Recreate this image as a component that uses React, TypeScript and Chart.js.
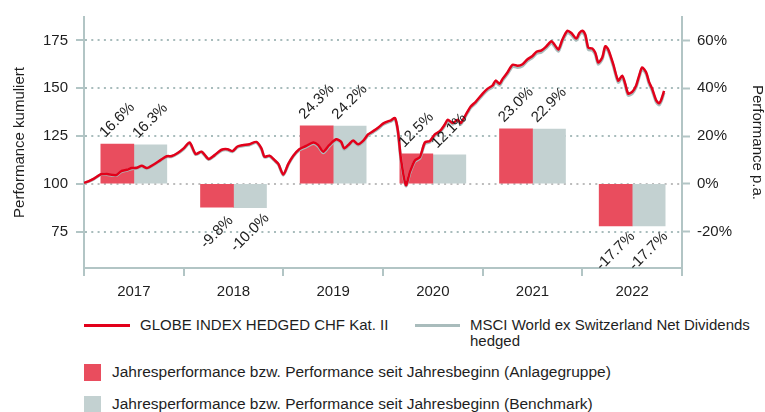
import React, { useEffect, useRef } from "react";
import { Chart, registerables } from "chart.js";

Chart.register(...registerables);

const years = ["2017", "2018", "2019", "2020", "2021", "2022"];
const fundYearPerf = [16.6, -9.8, 24.3, 12.5, 23.0, -17.7];
const benchYearPerf = [16.3, -10.0, 24.2, 12.1, 22.9, -17.7];

const lineT = [
  2017.0, 2017.05, 2017.1, 2017.17, 2017.23, 2017.32, 2017.37, 2017.43, 2017.48, 2017.53, 2017.58, 2017.63, 2017.7, 2017.77, 2017.83, 2017.88, 2017.94, 2018.0,
  2018.06, 2018.12, 2018.18, 2018.25, 2018.31, 2018.38, 2018.44, 2018.49, 2018.54, 2018.59, 2018.66, 2018.73, 2018.78, 2018.81, 2018.86, 2018.91, 2018.95, 2019.0,
  2019.05, 2019.1, 2019.16, 2019.23, 2019.3, 2019.35, 2019.4, 2019.46, 2019.53, 2019.58, 2019.61, 2019.66, 2019.7, 2019.75, 2019.8, 2019.85, 2019.9, 2019.95, 2020.0,
  2020.05, 2020.08, 2020.12, 2020.15, 2020.18, 2020.23, 2020.27, 2020.32, 2020.37, 2020.42, 2020.47, 2020.52, 2020.57, 2020.62, 2020.65, 2020.7, 2020.75, 2020.78, 2020.83, 2020.88, 2020.93, 2021.0,
  2021.05, 2021.1, 2021.13, 2021.17, 2021.2, 2021.25, 2021.3, 2021.35, 2021.4, 2021.45, 2021.5, 2021.54, 2021.59, 2021.64, 2021.69, 2021.72, 2021.76, 2021.8, 2021.85, 2021.89, 2021.94, 2021.97, 2022.0,
  2022.03, 2022.06, 2022.1, 2022.13, 2022.16, 2022.2, 2022.23, 2022.26, 2022.31, 2022.36, 2022.4, 2022.43, 2022.46, 2022.5, 2022.54, 2022.57, 2022.6, 2022.64, 2022.67, 2022.7, 2022.74, 2022.77, 2022.79, 2022.82,
];

const fundCum = [
  100.5, 101.4, 102.7, 105.0, 105.1, 104.5, 106.5, 107.3, 108.2, 108.4, 109.4, 108.2, 110.1, 112.5, 114.4, 114.5, 116.1, 118.5,
  121.6, 115.6, 116.8, 113.0, 115.0, 117.8, 118.1, 117.1, 119.5, 120.2, 120.7, 121.9, 118.5, 114.2, 114.7, 112.5, 110.4, 104.8,
  110.4, 114.7, 118.1, 119.8, 121.6, 120.2, 116.8, 120.2, 123.3, 121.9, 118.5, 120.7, 122.7, 120.7, 122.4, 125.8, 127.5, 129.3, 131.5,
  132.7, 133.2, 134.4, 127.6, 113.0, 99.3, 106.2, 112.2, 113.9, 121.6, 122.4, 125.8, 127.5, 131.0, 133.5, 131.8, 133.5, 131.8, 136.1, 140.4, 142.9, 147.2,
  149.8, 151.5, 154.0, 152.4, 154.9, 158.4, 162.3, 161.8, 162.6, 165.2, 166.9, 169.1, 169.8, 172.0, 174.6, 172.9, 170.3, 175.5, 180.1, 178.9, 176.0, 178.9, 180.1,
  178.0, 171.2, 170.8, 168.6, 163.5, 166.1, 172.0, 170.3, 162.6, 154.0, 156.6, 152.4, 147.2, 148.1, 151.5, 156.6, 160.9, 158.4, 153.2, 149.8, 143.8, 142.1, 143.8, 148.6,
];

const benchCum = [
  100.4, 101.2, 102.5, 104.8, 104.9, 104.3, 106.2, 107.0, 107.9, 108.1, 109.1, 107.9, 109.8, 112.2, 114.1, 114.2, 115.8, 118.2,
  121.2, 115.3, 116.5, 112.7, 114.7, 117.4, 117.7, 116.8, 119.1, 119.8, 120.3, 121.5, 118.1, 113.9, 114.4, 112.2, 110.1, 104.5,
  110.0, 114.3, 117.7, 119.3, 121.1, 119.6, 116.2, 119.6, 122.8, 121.4, 118.0, 120.2, 122.2, 120.2, 121.9, 125.3, 127.0, 128.8, 131.0,
  132.2, 132.7, 133.9, 127.1, 112.5, 98.9, 105.7, 111.7, 113.4, 121.0, 121.8, 125.2, 126.9, 130.4, 132.9, 131.2, 132.9, 131.2, 135.5, 139.8, 142.2, 146.5,
  149.0, 150.7, 153.2, 151.6, 154.1, 157.5, 161.4, 160.9, 161.7, 164.3, 166.0, 168.2, 168.9, 171.1, 173.7, 172.0, 169.4, 174.6, 179.2, 178.0, 175.1, 178.0, 179.2,
  177.1, 170.3, 169.9, 167.7, 162.6, 165.2, 171.1, 169.4, 161.7, 153.1, 155.7, 151.5, 146.3, 147.2, 150.6, 155.7, 160.0, 157.5, 152.3, 148.9, 142.9, 141.2, 142.9, 147.7,
];

const FONT = '"Liberation Sans", Arial, sans-serif';
const RED_LINE = "#e2001a";
const GREY_LINE = "#a9bcbc";
const RED_BAR = "#e94d5e";
const GREY_BAR = "#c3d1d1";
const AXIS = "#b2c5c5";
const GRID = "#a8bcbc";
const TEXT = "#1e1e1e";

const barLabelPlugin = {
  id: "barLabels",
  afterDatasetsDraw(chart: any) {
    const ctx = chart.ctx;
    chart.data.datasets.forEach((ds: any, di: number) => {
      if (ds.type !== "bar") return;
      const meta = chart.getDatasetMeta(di);
      meta.data.forEach((el: any, i: number) => {
        const v = ds.data[i] as number;
        const text = v.toFixed(1) + "%";
        const cy = v >= 0 ? el.y - 24 : el.y + 25;
        ctx.save();
        ctx.translate(el.x, cy);
        ctx.rotate(-Math.PI / 4);
        ctx.font = "15px " + FONT;
        ctx.fillStyle = TEXT;
        ctx.textAlign = "center";
        ctx.textBaseline = "middle";
        ctx.fillText(text, 0, 0);
        ctx.restore();
      });
    });
  },
};

export default function App() {
  const ref = useRef<HTMLCanvasElement | null>(null);

  useEffect(() => {
    if (!ref.current) return;
    const chart = new Chart(ref.current, {
      data: {
        labels: years,
        datasets: [
          {
            type: "line",
            label: "GLOBE INDEX HEDGED CHF Kat. II",
            data: lineT.map((t, i) => ({ x: t, y: fundCum[i] })),
            xAxisID: "x2",
            yAxisID: "y",
            borderColor: RED_LINE,
            borderWidth: 2.5,
            pointRadius: 0,
            tension: 0.25,
            order: 0,
          } as any,
          {
            type: "line",
            label: "MSCI World ex Switzerland Net Dividends hedged",
            data: lineT.map((t, i) => ({ x: t, y: benchCum[i] })),
            xAxisID: "x2",
            yAxisID: "y",
            borderColor: GREY_LINE,
            borderWidth: 3,
            pointRadius: 0,
            tension: 0.25,
            order: 1,
          } as any,
          {
            type: "bar",
            label: "Jahresperformance bzw. Performance seit Jahresbeginn (Anlagegruppe)",
            data: fundYearPerf,
            xAxisID: "x",
            yAxisID: "y1",
            backgroundColor: RED_BAR,
            barThickness: 33,
            order: 2,
          } as any,
          {
            type: "bar",
            label: "Jahresperformance bzw. Performance seit Jahresbeginn (Benchmark)",
            data: benchYearPerf,
            xAxisID: "x",
            yAxisID: "y1",
            backgroundColor: GREY_BAR,
            barThickness: 33,
            order: 3,
          } as any,
        ],
      },
      options: {
        animation: false,
        responsive: false,
        devicePixelRatio: 1,
        layout: { padding: { top: 12, left: 0, right: 0, bottom: 0 } },
        plugins: { legend: { display: false }, tooltip: { enabled: false } },
        font: { family: FONT },
        scales: {
          x: {
            type: "category",
            position: "bottom",
            offset: true,
            grid: {
              display: true,
              drawOnChartArea: false,
              drawTicks: true,
              offset: true,
              tickLength: 8,
              tickColor: AXIS,
              tickWidth: 2,
              color: AXIS,
              lineWidth: 2,
            },
            border: { display: true, color: AXIS, width: 2 },
            ticks: { color: TEXT, font: { family: FONT, size: 15 }, padding: 7 },
            afterFit: (s: any) => {
              s.height = 37;
            },
          },
          x2: {
            type: "linear",
            display: false,
            min: 2017,
            max: 2023,
          },
          y: {
            type: "linear",
            position: "left",
            min: 55.9,
            max: 187.3,
            ticks: {
              stepSize: 25,
              includeBounds: false,
              color: TEXT,
              font: { family: FONT, size: 15 },
              padding: 8,
            },
            grid: {
              color: (c: any) => (c.tick && c.tick.value === 100 ? "#bcbcbc" : GRID),
              lineWidth: 2,
              tickColor: AXIS,
              tickLength: 8,
              tickWidth: 2,
              tickBorderDash: [],
            },
            border: { display: true, color: AXIS, width: 2, dash: [2, 4.3] },
            title: {
              display: true,
              text: "Performance kumuliert",
              color: TEXT,
              font: { family: FONT, size: 15, lineHeight: 1 },
              padding: { top: 12, bottom: 0 },
            },
            afterFit: (s: any) => {
              s.width = 84;
            },
          },
          y1: {
            type: "linear",
            position: "right",
            min: -35.28,
            max: 69.84,
            ticks: {
              stepSize: 20,
              includeBounds: false,
              color: TEXT,
              font: { family: FONT, size: 15 },
              padding: 7,
              callback: (v: any) => v + "%",
            },
            grid: {
              drawOnChartArea: false,
              tickColor: AXIS,
              tickLength: 8,
              tickWidth: 2,
              color: AXIS,
            },
            border: { display: true, color: AXIS, width: 2 },
            title: {
              display: true,
              text: "Performance p.a.",
              color: TEXT,
              font: { family: FONT, size: 15, lineHeight: 1 },
              padding: { top: 0, bottom: 0 },
            },
            afterFit: (s: any) => {
              s.width = 83;
            },
          },
        },
      } as any,
      plugins: [barLabelPlugin],
    });
    return () => chart.destroy();
  }, []);

  const text: React.CSSProperties = {
    position: "absolute",
    fontFamily: FONT,
    fontSize: 15.5,
    color: TEXT,
    lineHeight: "16px",
    whiteSpace: "nowrap",
  };

  return (
    <div style={{ position: "absolute", left: 0, top: 0, width: 765, height: 412, background: "#fff", overflow: "hidden" }}>
      <canvas ref={ref} width={765} height={305} style={{ position: "absolute", left: 0, top: 0, width: 765, height: 305 }} />
      <div style={{ position: "absolute", left: 84, top: 324, width: 46, height: 3, background: RED_LINE }} />
      <div style={{ ...text, left: 140, top: 317, fontSize: 15 }}>GLOBE INDEX HEDGED CHF Kat. II</div>
      <div style={{ position: "absolute", left: 415, top: 324, width: 45, height: 3, background: GREY_LINE }} />
      <div style={{ ...text, left: 470, top: 317, whiteSpace: "normal", width: 295, fontSize: 15 }}>
        MSCI World ex Switzerland Net Dividends hedged
      </div>
      <div style={{ position: "absolute", left: 84, top: 364, width: 17, height: 17, background: RED_BAR }} />
      <div style={{ ...text, left: 112, top: 364 }}>Jahresperformance bzw. Performance seit Jahresbeginn (Anlagegruppe)</div>
      <div style={{ position: "absolute", left: 84, top: 396, width: 17, height: 17, background: GREY_BAR }} />
      <div style={{ ...text, left: 112, top: 396 }}>Jahresperformance bzw. Performance seit Jahresbeginn (Benchmark)</div>
    </div>
  );
}
